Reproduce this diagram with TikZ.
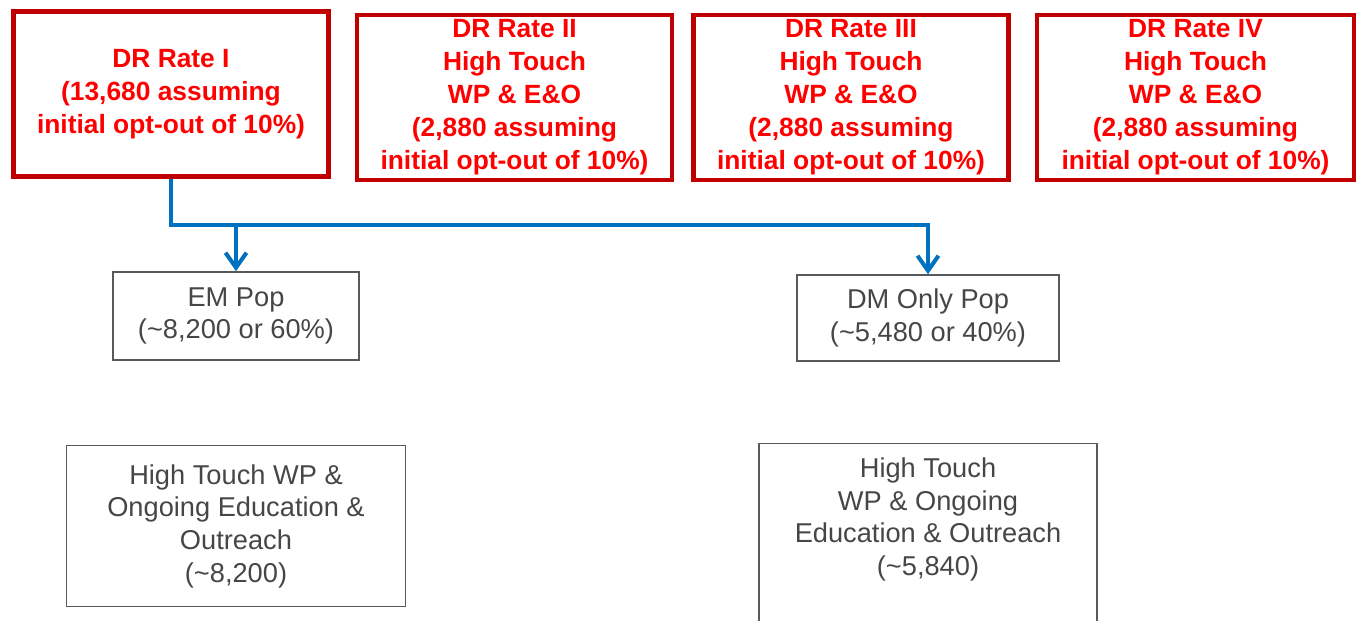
\documentclass[tikz,border=0pt]{standalone}
\usepackage{fontspec}
\setmainfont{Liberation Sans}
\usetikzlibrary{positioning,arrows.meta}
\definecolor{ratered}{RGB}{255,0,0}
\definecolor{rateborder}{RGB}{192,0,0}
\definecolor{popgray}{RGB}{70,70,70}
\definecolor{flowblue}{RGB}{0,112,192}

\begin{document}
\begin{tikzpicture}[
	rate/.style={draw=rateborder, line width=2.3pt, text=ratered, align=center, inner sep=0pt,
		font=\fontsize{15}{18.8}\selectfont\bfseries, minimum width=6.3cm, minimum height=3.3cm},
	pop/.style={draw=popgray!90, line width=0.9pt, text=popgray, align=center, inner sep=2pt,
		font=\fontsize{15.5}{18.6}\selectfont},
	flow/.style={draw=flowblue, line width=2.3pt, -{Straight Barb[length=3mm,width=4.2mm]}}
	]
	\useasboundingbox (0,0) rectangle (27.16,-12.42);
	\clip (0,0) rectangle (27.16,-12.42);
	
	\node[rate] (r1) at (3.42,-1.88) {DR Rate I\\(13,680 assuming\\initial opt-out of 10\%)};
	\node[rate] (r2) at (10.29,-1.95) {DR Rate II\\High Touch\\WP \& E\&O\\(2,880 assuming\\initial opt-out of 10\%)};
	\node[rate] (r3) at (17.02,-1.95) {DR Rate III\\High Touch\\WP \& E\&O\\(2,880 assuming\\initial opt-out of 10\%)};
	\node[rate, minimum width=6.34cm] (r4) at (23.91,-1.95) {DR Rate IV\\High Touch\\WP \& E\&O\\(2,880 assuming\\initial opt-out of 10\%)};
	
	\node[pop, minimum width=4.92cm, minimum height=1.76cm] (em) at (4.72,-6.32) {EM Pop\\(\textasciitilde8,200 or 60\%)};
	\node[pop, minimum width=5.24cm, minimum height=1.72cm] (dm) at (18.56,-6.36) {DM Only Pop\\(\textasciitilde5,480 or 40\%)};
	
	\node[pop, below=1.68cm of em, minimum width=6.78cm, minimum height=3.22cm] (ht1) {High Touch WP \&\\Ongoing Education \&\\Outreach\\(\textasciitilde8,200)};
	\node[pop, below=1.62cm of dm, minimum width=6.76cm, inner ysep=8pt, text depth=4cm] (ht2) {High Touch\\WP \& Ongoing\\Education \& Outreach\\(\textasciitilde5,840)};
	
	\coordinate (fork) at (r1.south |- 0,-4.5);
	\draw[flow] (r1.south) -- (fork) -| (dm.north);
	\draw[flow] (fork) -| (em.north);
\end{tikzpicture}
\end{document}
